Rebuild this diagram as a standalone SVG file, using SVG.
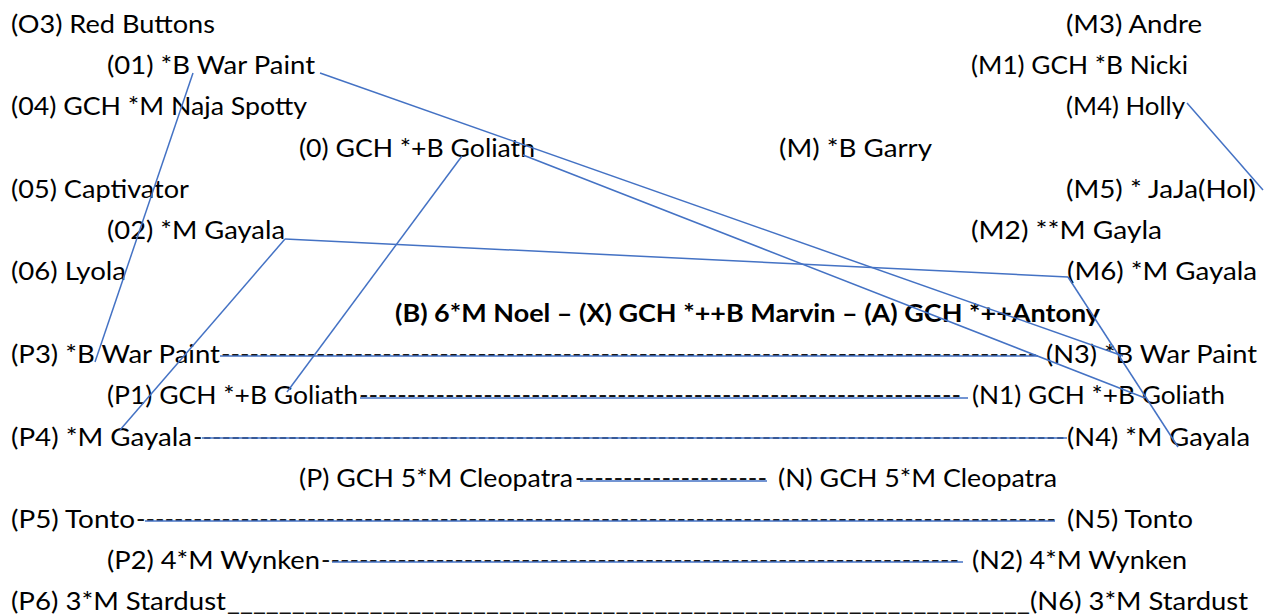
<svg xmlns="http://www.w3.org/2000/svg" width="1270" height="616" viewBox="0 0 1270 616">
<style>
text{font-family:Lato,"Open Sans","Liberation Sans",sans-serif;font-size:25.5px;fill:#000}
.b{font-weight:bold}
.d{fill:#111}
.c line{stroke:#4472C4;stroke-width:1.5;fill:none}
</style>
<rect width="1270" height="616" fill="#fff"/>
<g id="O3"><text x="11" y="33" textLength="204" lengthAdjust="spacingAndGlyphs">(O3) Red Buttons</text></g>
<g id="M3"><text x="1066" y="33" textLength="136" lengthAdjust="spacingAndGlyphs">(M3) Andre</text></g>
<g id="O1"><text x="107" y="74" textLength="208" lengthAdjust="spacingAndGlyphs">(01) *B War Paint</text></g>
<g id="M1"><text x="971" y="74" textLength="217" lengthAdjust="spacingAndGlyphs">(M1) GCH *B Nicki</text></g>
<g id="O4"><text x="11" y="115" textLength="296" lengthAdjust="spacingAndGlyphs">(04) GCH *M Naja Spotty</text></g>
<g id="M4"><text x="1066" y="115" textLength="119" lengthAdjust="spacingAndGlyphs">(M4) Holly</text></g>
<g id="O"><text x="299" y="157" textLength="236" lengthAdjust="spacingAndGlyphs">(0) GCH *+B Goliath</text></g>
<g id="M"><text x="779" y="157" textLength="153" lengthAdjust="spacingAndGlyphs">(M) *B Garry</text></g>
<g id="O5"><text x="11" y="198" textLength="178" lengthAdjust="spacingAndGlyphs">(05) Captivator</text></g>
<g id="M5"><text x="1066" y="198" textLength="190" lengthAdjust="spacingAndGlyphs">(M5) * JaJa(Hol)</text></g>
<g id="O2"><text x="107" y="239" textLength="178" lengthAdjust="spacingAndGlyphs">(02) *M Gayala</text></g>
<g id="M2"><text x="971" y="239" textLength="191" lengthAdjust="spacingAndGlyphs">(M2) **M Gayla</text></g>
<g id="O6"><text x="11" y="280" textLength="115" lengthAdjust="spacingAndGlyphs">(06) Lyola</text></g>
<g id="M6"><text x="1067" y="280" textLength="190" lengthAdjust="spacingAndGlyphs">(M6) *M Gayala</text></g>
<g id="title"><text class="b" x="395" y="322" textLength="705" lengthAdjust="spacingAndGlyphs">(B) 6*M Noel – (X) GCH *++B Marvin – (A) GCH *++Antony</text></g>
<g id="P3"><text x="11" y="363" textLength="209" lengthAdjust="spacingAndGlyphs">(P3) *B War Paint</text><text class="d" x="221" y="363" textLength="816" lengthAdjust="spacingAndGlyphs">--------------------------------------------------------------------------------------</text></g>
<g id="N3"><text x="1046" y="363" textLength="211" lengthAdjust="spacingAndGlyphs">(N3) *B War Paint</text></g>
<g id="P1"><text x="107" y="404" textLength="251" lengthAdjust="spacingAndGlyphs">(P1) GCH *+B Goliath</text><text class="d" x="359" y="404" textLength="602" lengthAdjust="spacingAndGlyphs">---------------------------------------------------------------</text></g>
<g id="N1"><text x="972" y="404" textLength="253" lengthAdjust="spacingAndGlyphs">(N1) GCH *+B Goliath</text></g>
<g id="P4"><text x="11" y="446" textLength="181" lengthAdjust="spacingAndGlyphs">(P4) *M Gayala</text><text class="d" x="193" y="446" textLength="872" lengthAdjust="spacingAndGlyphs">--------------------------------------------------------------------------------------------</text></g>
<g id="N4"><text x="1067" y="446" textLength="183" lengthAdjust="spacingAndGlyphs">(N4) *M Gayala</text></g>
<g id="P"><text x="299" y="487" textLength="274" lengthAdjust="spacingAndGlyphs">(P) GCH 5*M Cleopatra</text><text class="d" x="575" y="487" textLength="192" lengthAdjust="spacingAndGlyphs">--------------------</text></g>
<g id="N"><text x="778" y="487" textLength="279" lengthAdjust="spacingAndGlyphs">(N) GCH 5*M Cleopatra</text></g>
<g id="P5"><text x="11" y="528" textLength="124" lengthAdjust="spacingAndGlyphs">(P5) Tonto</text><text class="d" x="136" y="528" textLength="920" lengthAdjust="spacingAndGlyphs">-------------------------------------------------------------------------------------------------</text></g>
<g id="N5"><text x="1067" y="528" textLength="126" lengthAdjust="spacingAndGlyphs">(N5) Tonto</text></g>
<g id="P2"><text x="107" y="569" textLength="213" lengthAdjust="spacingAndGlyphs">(P2) 4*M Wynken</text><text class="d" x="321" y="569" textLength="638" lengthAdjust="spacingAndGlyphs">-------------------------------------------------------------------</text></g>
<g id="N2"><text x="972" y="569" textLength="215" lengthAdjust="spacingAndGlyphs">(N2) 4*M Wynken</text></g>
<g id="P6"><text x="11" y="610" textLength="215" lengthAdjust="spacingAndGlyphs">(P6) 3*M Stardust</text><text class="d" x="227" y="610" textLength="803" lengthAdjust="spacingAndGlyphs">______________________________________________________________</text></g>
<g id="N6"><text x="1030" y="610" textLength="218" lengthAdjust="spacingAndGlyphs">(N6) 3*M Stardust</text></g>
<g id="connectors" class="c">
<line x1="193" y1="73" x2="95" y2="362"/>
<line x1="320" y1="73" x2="1123" y2="356"/>
<line x1="523" y1="155" x2="1145" y2="398"/>
<line x1="462" y1="156" x2="287" y2="392"/>
<line x1="285" y1="239" x2="120" y2="430"/>
<line x1="285" y1="239" x2="1068" y2="277"/>
<line x1="1068" y1="277" x2="1178" y2="447"/>
<line x1="1187" y1="103" x2="1263" y2="190"/>
<line x1="220" y1="356" x2="1038" y2="356"/>
<line x1="360" y1="398" x2="968" y2="398"/>
<line x1="202" y1="438" x2="1067" y2="438"/>
<line x1="580" y1="481" x2="767" y2="481"/>
<line x1="145" y1="521" x2="1055" y2="521"/>
<line x1="332" y1="562" x2="963" y2="562"/>
</g>
</svg>
